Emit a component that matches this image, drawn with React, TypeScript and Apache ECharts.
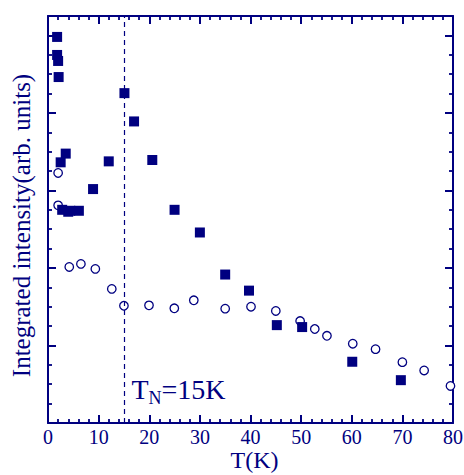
import React, { useEffect, useRef } from 'react';
import * as echarts from 'echarts';

const NAVY = '#000080';
const FONT = '"Liberation Serif", "Times New Roman", serif';

// Néel temperature (K)
const TN = 15;

// Filled squares: temperature (K) and integrated intensity (arb. units)
const squareT = [1.8, 1.8, 2.0, 2.1, 3.5, 2.5, 2.8, 4.0, 4.4, 6.1, 8.9, 12.0, 15.1, 17.0, 20.6, 25.0, 30.0, 35.0, 39.7, 45.2, 50.2, 60.1, 69.7];
const squareI = [19.92, 18.99, 18.68, 17.85, 13.9, 13.45, 11.0, 10.9, 10.95, 10.95, 12.07, 13.5, 17.02, 15.56, 13.57, 11.0, 9.83, 7.66, 6.83, 5.05, 4.95, 3.16, 2.21];

// Open circles
const circleT = [2.0, 2.0, 4.2, 6.5, 9.35, 12.6, 15.0, 19.95, 24.95, 28.8, 35.0, 40.1, 45.0, 49.8, 52.7, 55.1, 60.2, 64.7, 70.0, 74.3, 79.5];
const circleI = [12.9, 11.23, 8.05, 8.21, 7.95, 6.92, 6.05, 6.07, 5.92, 6.33, 5.9, 6.0, 5.78, 5.26, 4.85, 4.5, 4.09, 3.81, 3.14, 2.71, 1.91];

const X_MIN = 0;
const X_MAX = 80;
const X_STEP = 10;
const Y_MIN = 0;
const Y_MAX = 21;
const Y_STEP = 4;

const xTitle = 'T(K)';
const yTitle = 'Integrated intensity(arb. units)';

function axisCommon() {
  return {
    axisLine: { show: true, onZero: false, lineStyle: { color: NAVY, width: 2 } },
    axisTick: { show: true, inside: true, length: 8, lineStyle: { color: NAVY, width: 2 } },
    splitLine: { show: false },
  };
}

export default function App() {
  const ref = useRef<HTMLDivElement>(null);
  useEffect(() => {
    if (!ref.current) return;
    const chart = echarts.init(ref.current, undefined, { renderer: 'svg' });
    const squares = squareT.map((t, i) => [t, squareI[i]]);
    const circles = circleT.map((t, i) => [t, circleI[i]]);
    chart.setOption({
      animation: false,
      backgroundColor: '#ffffff',
      grid: { left: 48, right: 11, top: 16, bottom: 52, containLabel: false, outerBoundsMode: 'none' },
      xAxis: [
        {
          type: 'value', position: 'bottom', min: X_MIN, max: X_MAX, interval: X_STEP,
          ...axisCommon(),
          minorTick: { show: true, splitNumber: 5, length: 4, lineStyle: { color: NAVY, width: 1.8 } },
          axisLabel: { show: true, color: NAVY, fontSize: 20, fontFamily: FONT, margin: 5, lineHeight: 18 },
          name: xTitle, nameLocation: 'middle', nameGap: 27, nameMoveOverlap: false,
          nameTextStyle: { color: NAVY, fontSize: 24, fontFamily: FONT, lineHeight: 20, padding: [0, 0, 0, 8] },
        },
        {
          type: 'value', position: 'top', min: X_MIN, max: X_MAX, interval: X_STEP,
          ...axisCommon(),
          minorTick: { show: true, splitNumber: 5, length: 4, lineStyle: { color: NAVY, width: 1.8 } },
          axisLabel: { show: false },
        },
      ],
      yAxis: [
        {
          type: 'value', position: 'left', min: Y_MIN, max: Y_MAX, interval: Y_STEP,
          ...axisCommon(),
          minorTick: { show: true, splitNumber: 4, length: 4, lineStyle: { color: NAVY, width: 1.8 } },
          axisLabel: { show: false },
          name: yTitle, nameLocation: 'middle', nameGap: 14, nameMoveOverlap: false,
          nameTextStyle: { color: NAVY, fontSize: 25, fontFamily: FONT, padding: [0, 12, 0, 0] },
        },
        {
          type: 'value', position: 'right', min: Y_MIN, max: Y_MAX, interval: Y_STEP,
          ...axisCommon(),
          minorTick: { show: true, splitNumber: 4, length: 4, lineStyle: { color: NAVY, width: 1.8 } },
          axisLabel: { show: false },
        },
      ],
      series: [
        {
          type: 'scatter', name: 'open', xAxisIndex: 0, yAxisIndex: 0,
          data: circles, symbol: 'circle', symbolSize: 8.5,
          itemStyle: { color: '#ffffff', borderColor: NAVY, borderWidth: 1.3, opacity: 1 },
          markLine: {
            silent: true, symbol: ['none', 'none'], label: { show: false },
            lineStyle: { color: NAVY, width: 1.2, type: [5, 4], opacity: 1 },
            data: [{ xAxis: TN }],
          },
          z: 2,
        },
        {
          type: 'scatter', name: 'filled', xAxisIndex: 0, yAxisIndex: 0,
          data: squares, symbol: 'rect', symbolSize: 10,
          itemStyle: { color: NAVY, opacity: 1 },
          z: 3,
        },
      ],
    });
    const px = chart.convertToPixel({ xAxisIndex: 0 }, TN) as number;
    const py0 = chart.convertToPixel({ yAxisIndex: 0 }, Y_MIN) as number;
    chart.setOption({
      graphic: [
        { type: 'text', x: px + 7.5, y: py0 - 33.5, style: { text: 'T', fill: NAVY, fontSize: 28, fontFamily: FONT, align: 'left', verticalAlign: 'middle' } },
        { type: 'text', x: px + 24.5, y: py0 - 25.5, style: { text: 'N', fill: NAVY, fontSize: 18, fontFamily: FONT, align: 'left', verticalAlign: 'middle' } },
        { type: 'text', x: px + 37.5, y: py0 - 33.5, style: { text: '=15K', fill: NAVY, fontSize: 28, fontFamily: FONT, align: 'left', verticalAlign: 'middle' } },
      ],
    });
    return () => chart.dispose();
  }, []);
  return <div ref={ref} style={{ position: 'fixed', left: 0, top: 0, width: 464, height: 475, background: '#fff' }} />;
}
